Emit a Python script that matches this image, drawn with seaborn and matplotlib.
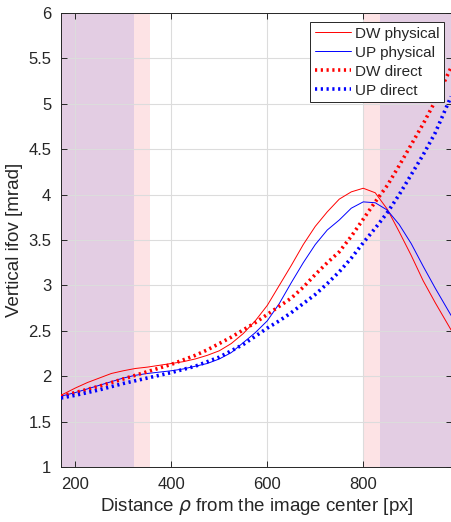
import numpy as np
import pandas as pd
import matplotlib
matplotlib.use("Agg")
import matplotlib.pyplot as plt
import seaborn as sns

# ---- data ----
rho = [170, 200, 225, 250, 275, 300, 325, 350, 375, 400, 425, 450, 475, 500, 525, 550, 575,
       600, 625, 650, 675, 700, 725, 750, 775, 800, 825, 850, 875, 900, 925, 950, 983]
dw_physical = [1.79, 1.87, 1.93, 1.98, 2.03, 2.06, 2.085, 2.10, 2.12, 2.14, 2.16, 2.19, 2.23, 2.28, 2.36, 2.47, 2.61,
               2.78, 3.00, 3.22, 3.45, 3.65, 3.81, 3.95, 4.03, 4.07, 4.02, 3.84, 3.59, 3.33, 3.05, 2.81, 2.51]
up_physical = [1.78, 1.82, 1.86, 1.90, 1.94, 1.98, 2.01, 2.03, 2.045, 2.06, 2.08, 2.11, 2.14, 2.19, 2.26, 2.37, 2.48,
               2.61, 2.80, 3.03, 3.25, 3.45, 3.61, 3.72, 3.85, 3.92, 3.91, 3.83, 3.67, 3.46, 3.21, 2.97, 2.67]
dw_direct = [1.78, 1.82, 1.855, 1.89, 1.93, 1.97, 2.01, 2.05, 2.09, 2.13, 2.18, 2.23, 2.29, 2.36, 2.43, 2.51, 2.59,
             2.68, 2.77, 2.86, 2.98, 3.12, 3.25, 3.37, 3.54, 3.73, 3.92, 4.10, 4.32, 4.55, 4.78, 5.03, 5.40]
up_direct = [1.76, 1.79, 1.82, 1.85, 1.885, 1.92, 1.95, 1.98, 2.01, 2.04, 2.075, 2.11, 2.16, 2.21, 2.28, 2.35, 2.44,
             2.53, 2.61, 2.70, 2.80, 2.90, 3.02, 3.15, 3.30, 3.47, 3.63, 3.80, 4.00, 4.22, 4.44, 4.68, 5.08]

series_names = ["DW physical", "UP physical", "DW direct", "UP direct"]
series_values = [dw_physical, up_physical, dw_direct, up_direct]

# shaded bands (x ranges)
purple_bands = [(170, 323), (835, 990)]
pink_bands = [(323, 356), (800, 835)]

xticks = [200, 400, 600, 800]
yticks = [1, 1.5, 2, 2.5, 3, 3.5, 4, 4.5, 5, 5.5, 6]
ytick_labels = ["1", "1.5", "2", "2.5", "3", "3.5", "4", "4.5", "5", "5.5", "6"]

df = pd.concat(
    [pd.DataFrame({"rho": rho, "ifov": v, "series": n}) for n, v in zip(series_names, series_values)],
    ignore_index=True,
)

sns.set_theme(style="whitegrid")
plt.rcParams["font.family"] = ["Liberation Sans", "DejaVu Sans"]
plt.rcParams["mathtext.fontset"] = "dejavusans"

W, H = 451, 522
fig = plt.figure(figsize=(W / 100, H / 100), dpi=100)
left, right, top, bottom = 61, 452, 13, 467
ax = fig.add_axes([left / W, 1 - bottom / H, (right - left) / W, (bottom - top) / H])

purple = "#e3cde3"
pink = "#fde3e5"
for a, b in purple_bands:
    ax.axvspan(a, b, color=purple, lw=0, zorder=1)
for a, b in pink_bands:
    ax.axvspan(a, b, color=pink, lw=0, zorder=1)

palette = {"DW physical": "#ff0000", "UP physical": "#0000ff", "DW direct": "#ff0000", "UP direct": "#0000ff"}
styles = {"DW physical": (0.7, "-"), "UP physical": (0.7, "-"),
          "DW direct": (2.6, (0, (0.6, 1.0))), "UP direct": (2.6, (0, (0.6, 1.0)))}

for name in series_names:
    sub = df[df["series"] == name]
    lw, ls = styles[name]
    sns.lineplot(data=sub, x="rho", y="ifov", color=palette[name], lw=lw, linestyle=ls,
                 ax=ax, label=name, zorder=3, sort=False)

ax.set_xlim(170, 985)
ax.set_ylim(1, 6)
ax.set_xticks(xticks)
ax.set_yticks(yticks)
ax.set_yticklabels(ytick_labels)
ax.set_axisbelow("line")
ax.grid(True, color="#dcdcdc", lw=0.8)
ax.set_facecolor("white")

for s in ["left", "bottom", "top", "right"]:
    ax.spines[s].set_color("#262626")
    ax.spines[s].set_linewidth(0.7)
    ax.spines[s].set_visible(True)
ax.tick_params(axis="both", direction="in", length=4, width=0.7, color="#262626",
               labelsize=12, labelcolor="#262626", top=True, right=True, bottom=True, left=True, pad=7)

ax.set_xlabel("Distance $\\rho$ from the image center [px]", fontsize=13.5, color="#262626", labelpad=3)
ax.set_ylabel("Vertical ifov [mrad]", fontsize=13.5, color="#262626", labelpad=4)

leg = ax.legend(loc="upper right", bbox_to_anchor=(0.98, 0.98), fontsize=11, frameon=True,
                fancybox=False, edgecolor="#262626", framealpha=1, handlelength=2.4,
                borderpad=0.3, labelspacing=0.33, handletextpad=0.25, borderaxespad=0)
leg.get_frame().set_linewidth(0.7)

fig.savefig("out.png", dpi=100)
